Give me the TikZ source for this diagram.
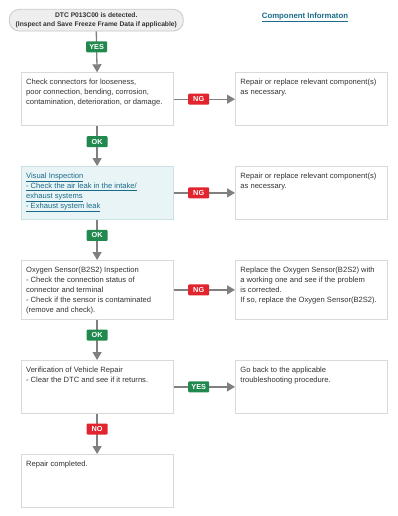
\documentclass[tikz,border=0pt]{standalone}
\usepackage{fontspec}
\setmainfont{Liberation Sans}
\usetikzlibrary{arrows.meta}
\definecolor{txt}{HTML}{333333}
\definecolor{boxline}{HTML}{D9D9D9}
\definecolor{arrowgray}{HTML}{808080}
\definecolor{okgreen}{HTML}{22894E}
\definecolor{ngred}{HTML}{E1242D}
\definecolor{linkblue}{HTML}{1A6B8A}
\definecolor{visfill}{HTML}{E9F4F6}
\definecolor{visline}{HTML}{C9E1E7}
\definecolor{startfill}{HTML}{EEEEEE}
\definecolor{startline}{HTML}{C8C8C8}
\newcommand\boxtext[2]{\parbox[t][#1][t]{142pt}{\strut #2}}
\tikzset{
  stepbox/.style={draw=boxline, line width=0.8pt, fill=white, anchor=north west,
    inner sep=5pt, align=left, text=txt, font=\fontsize{7.6}{10}\selectfont},
  visbox/.style={stepbox, draw=visline, fill=visfill},
  startbox/.style={draw=startline, line width=0.8pt, fill=startfill, rounded corners=10pt,
    minimum width=174pt, minimum height=21.7pt, align=center, text=txt, inner sep=1pt,
    font=\fontsize{6.7}{9.3}\selectfont\bfseries},
  lbl/.style={font=\fontsize{7.3}{7}\selectfont\bfseries, text=white, rounded corners=1pt,
    inner sep=0pt, minimum height=11pt, minimum width=21pt},
  oklbl/.style={lbl, fill=okgreen},
  nglbl/.style={lbl, fill=ngred},
  arr/.style={draw=arrowgray, line width=1.3pt, -{Triangle[width=9pt,length=8pt]}, arrowgray},
  linktext/.style={text=linkblue, font=\fontsize{7.8}{9}\selectfont\bfseries}
}
\begin{document}
\begin{tikzpicture}[x=1pt,y=-1pt]
\useasboundingbox[fill=white] (0,0) rectangle (397,516);

\node[startbox] (start) at (96.3,20.2) {DTC P013C00 is detected.\\(Inspect and Save Freeze Frame Data if applicable)};
\node[linktext] (comp) at (305,17) {\underline{Component Informaton}};

\node[stepbox] (b1) at (20.7,72.3) {\boxtext{43pt}{Check connectors for looseness,\\poor connection, bending, corrosion,\\contamination, deterioration, or damage.}};
\node[stepbox] (r1) at (235,72.3) {\boxtext{43pt}{Repair or replace relevant component(s)\\as necessary.}};

\node[visbox] (b2) at (20.7,166) {\boxtext{43pt}{\color{linkblue}\underline{Visual Inspection}\\\underline{- Check the air leak in the intake/}\\\underline{exhaust systems}\\\underline{- Exhaust system leak}}};
\node[stepbox] (r2) at (235,166) {\boxtext{43pt}{Repair or replace relevant component(s)\\as necessary.}};

\node[stepbox] (b3) at (20.7,260) {\boxtext{49pt}{Oxygen Sensor(B2S2) Inspection\\- Check the connection status of\\connector and terminal\\- Check if the sensor is contaminated\\(remove and check).}};
\node[stepbox] (r3) at (235,260) {\boxtext{49pt}{Replace the Oxygen Sensor(B2S2) with\\a working one and see if the problem\\is corrected.\\If so, replace the Oxygen Sensor(B2S2).}};

\node[stepbox] (b4) at (20.7,360) {\boxtext{43pt}{Verification of Vehicle Repair\\- Clear the DTC and see if it returns.}};
\node[stepbox] (r4) at (235,360) {\boxtext{43pt}{Go back to the applicable\\troubleshooting procedure.}};

\node[stepbox] (b5) at (20.7,454) {\boxtext{43pt}{Repair completed.}};

\draw[arr] (start.south) -- node[oklbl, pos=0.375] (lyes1) {YES} (b1.north);
\draw[arr] (b1.east) -- node[nglbl, pos=0.41] (lng1) {NG} (r1.west);
\draw[arr] (b1.south) -- node[oklbl, pos=0.39] (lok1) {OK} (b2.north);
\draw[arr] (b2.east) -- node[nglbl, pos=0.41] (lng2) {NG} (r2.west);
\draw[arr] (b2.south) -- node[oklbl, pos=0.39] (lok2) {OK} (b3.north);
\draw[arr] (b3.east) -- node[nglbl, pos=0.41] (lng3) {NG} (r3.west);
\draw[arr] (b3.south) -- node[oklbl, pos=0.38] (lok3) {OK} (b4.north);
\draw[arr] (b4.east) -- node[oklbl, pos=0.41] (lyes2) {YES} (r4.west);
\draw[arr] (b4.south) -- node[nglbl, pos=0.38] (lno) {NO} (b5.north);
\end{tikzpicture}
\end{document}
